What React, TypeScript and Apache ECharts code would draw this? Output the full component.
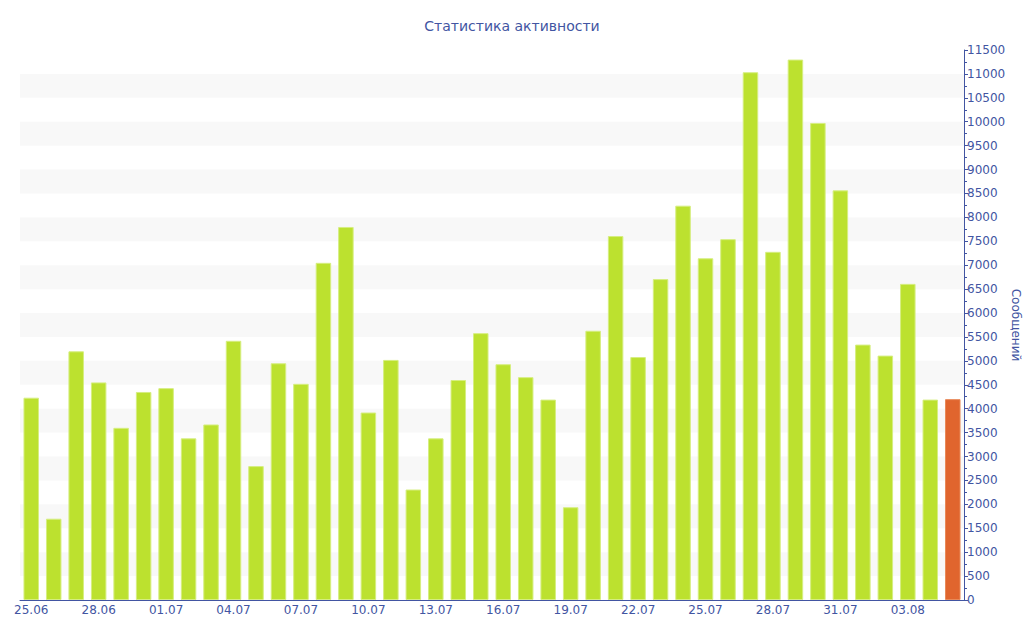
import React, { useEffect, useRef } from "react";
import * as echarts from "echarts";

const categories = [
  "25.06", "26.06", "27.06", "28.06", "29.06", "30.06",
  "01.07", "02.07", "03.07", "04.07", "05.07", "06.07", "07.07", "08.07", "09.07", "10.07",
  "11.07", "12.07", "13.07", "14.07", "15.07", "16.07", "17.07", "18.07", "19.07", "20.07",
  "21.07", "22.07", "23.07", "24.07", "25.07", "26.07", "27.07", "28.07", "29.07", "30.07",
  "31.07", "01.08", "02.08", "03.08", "04.08", "05.08",
];

const messages = [
  4230, 1700, 5200, 4550, 3600, 4350,
  4430, 3380, 3670, 5420, 2800, 4950, 4520, 7050, 7800, 3920,
  5020, 2310, 3380, 4600, 5580, 4930, 4660, 4190, 1940, 5630,
  7610, 5080, 6710, 8245, 7145, 7545, 11035, 7280, 11300, 9975,
  8565, 5340, 5110, 6610, 4190, 4200,
];

const TEXT = "#4255a2";
const GREEN = "#bce12f";
const RED = "#e0652e";

export default function App() {
  const ref = useRef<HTMLDivElement>(null);
  useEffect(() => {
    document.body.style.margin = "0";
    const chart = echarts.init(ref.current!, null, { renderer: "svg" });
    const last = messages.length - 1;
    chart.setOption({
      animation: false,
      textStyle: { fontFamily: "DejaVu Sans" },
      title: {
        text: "Статистика активности",
        left: "center",
        top: 14,
        textStyle: { color: TEXT, fontSize: 14, fontWeight: "normal", fontFamily: "DejaVu Sans" },
      },
      grid: { left: 20, right: 60, top: 50, bottom: 40, containLabel: false, outerBoundsMode: "none" },
      xAxis: {
        type: "category",
        data: categories,
        axisLine: { lineStyle: { color: TEXT } },
        axisTick: { alignWithLabel: true, interval: 2, length: 4, lineStyle: { color: TEXT } },
        axisLabel: { interval: 2, color: TEXT, fontSize: 12, margin: 4 },
        splitLine: { show: false },
      },
      yAxis: {
        type: "value",
        position: "right",
        min: 0,
        max: 11500,
        interval: 500,
        name: "Сообщений",
        nameLocation: "middle",
        nameRotate: -90,
        nameGap: 52,
        nameMoveOverlap: false,
        nameTextStyle: { color: TEXT, fontSize: 12, verticalAlign: "middle" },
        axisLine: { show: true, lineStyle: { color: TEXT } },
        axisTick: { show: true, length: 4, lineStyle: { color: TEXT } },
        minorTick: { show: true, splitNumber: 2, length: 3, lineStyle: { color: TEXT } },
        axisLabel: { color: TEXT, fontSize: 12, margin: 3, formatter: (v: number) => String(v) },
        splitLine: { show: false },
        splitArea: { show: true, areaStyle: { color: ["rgba(255,255,255,0)", "#f8f8f8"] } },
      },
      series: [
        {
          type: "bar",
          data: messages.map((v, i) => ({
            value: v,
            itemStyle: {
              color: i === last ? RED : GREEN,
              borderColor: i === last ? "#e88a5a" : "#d6ee80",
              borderWidth: 1,
            },
          })),
          barCategoryGap: "31%",
        },
      ],
    });
    return () => chart.dispose();
  }, []);
  return <div ref={ref} style={{ width: 1024, height: 640 }} />;
}
